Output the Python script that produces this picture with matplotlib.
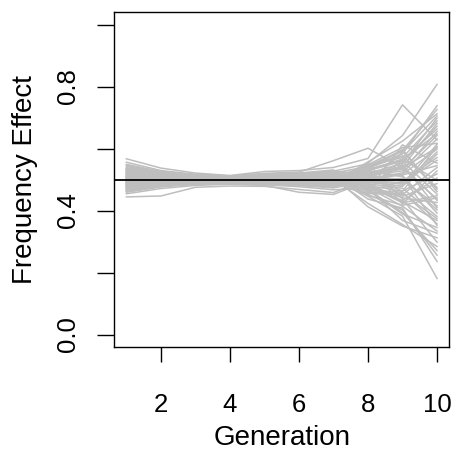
import numpy as np
import matplotlib
matplotlib.use("Agg")
import matplotlib.pyplot as plt

# frequency effect of each simulated run, one list per generation
generations = [1, 2, 3, 4, 5, 6, 7, 8, 9, 10]

gen1 = [0.512, 0.487, 0.531, 0.468, 0.502, 0.495, 0.549, 0.476, 0.521, 0.459,
        0.508, 0.538, 0.483, 0.497, 0.526, 0.471, 0.515, 0.444, 0.503, 0.491,
        0.567, 0.479, 0.518, 0.462, 0.534, 0.499, 0.486, 0.523, 0.507, 0.473,
        0.542, 0.489, 0.511, 0.465, 0.528, 0.494, 0.556, 0.481, 0.505, 0.469,
        0.519, 0.492, 0.536, 0.477, 0.514, 0.454, 0.501, 0.529, 0.485, 0.509,
        0.546, 0.474, 0.496, 0.524, 0.463, 0.516, 0.488, 0.533, 0.478, 0.504]
gen2 = [0.506, 0.492, 0.519, 0.481, 0.501, 0.497, 0.526, 0.486, 0.511, 0.476,
        0.504, 0.522, 0.489, 0.499, 0.514, 0.483, 0.508, 0.447, 0.502, 0.494,
        0.537, 0.488, 0.512, 0.479, 0.517, 0.500, 0.491, 0.513, 0.505, 0.485,
        0.524, 0.493, 0.507, 0.482, 0.515, 0.496, 0.529, 0.487, 0.503, 0.480,
        0.510, 0.495, 0.520, 0.484, 0.509, 0.471, 0.500, 0.516, 0.490, 0.506,
        0.523, 0.486, 0.498, 0.513, 0.478, 0.508, 0.492, 0.518, 0.485, 0.502]
gen3 = [0.503, 0.496, 0.511, 0.489, 0.500, 0.498, 0.514, 0.492, 0.506, 0.486,
        0.502, 0.512, 0.493, 0.499, 0.508, 0.490, 0.505, 0.475, 0.501, 0.497,
        0.521, 0.491, 0.507, 0.488, 0.510, 0.500, 0.494, 0.508, 0.503, 0.490,
        0.515, 0.495, 0.504, 0.487, 0.509, 0.497, 0.517, 0.492, 0.502, 0.484,
        0.506, 0.496, 0.513, 0.489, 0.505, 0.481, 0.500, 0.510, 0.494, 0.503,
        0.516, 0.491, 0.498, 0.507, 0.486, 0.504, 0.495, 0.511, 0.490, 0.501]
gen4 = [0.502, 0.497, 0.508, 0.491, 0.500, 0.499, 0.510, 0.494, 0.505, 0.489,
        0.501, 0.509, 0.494, 0.499, 0.506, 0.492, 0.504, 0.479, 0.501, 0.497,
        0.513, 0.493, 0.505, 0.490, 0.507, 0.500, 0.495, 0.506, 0.502, 0.492,
        0.511, 0.496, 0.503, 0.489, 0.507, 0.498, 0.512, 0.493, 0.501, 0.487,
        0.504, 0.497, 0.509, 0.491, 0.503, 0.485, 0.500, 0.508, 0.495, 0.502,
        0.511, 0.492, 0.498, 0.505, 0.488, 0.503, 0.496, 0.508, 0.491, 0.500]
gen5 = [0.504, 0.496, 0.512, 0.489, 0.501, 0.498, 0.515, 0.491, 0.507, 0.486,
        0.502, 0.513, 0.492, 0.499, 0.509, 0.489, 0.506, 0.478, 0.500, 0.496,
        0.526, 0.490, 0.508, 0.487, 0.511, 0.501, 0.493, 0.509, 0.503, 0.489,
        0.518, 0.494, 0.505, 0.485, 0.510, 0.497, 0.520, 0.491, 0.502, 0.483,
        0.507, 0.495, 0.514, 0.488, 0.506, 0.481, 0.499, 0.512, 0.493, 0.503,
        0.516, 0.490, 0.497, 0.508, 0.486, 0.505, 0.494, 0.513, 0.489, 0.501]
gen6 = [0.505, 0.495, 0.514, 0.486, 0.501, 0.497, 0.518, 0.489, 0.509, 0.482,
        0.503, 0.516, 0.490, 0.499, 0.511, 0.486, 0.507, 0.468, 0.501, 0.495,
        0.529, 0.488, 0.510, 0.484, 0.513, 0.500, 0.492, 0.511, 0.504, 0.487,
        0.521, 0.493, 0.506, 0.481, 0.512, 0.497, 0.524, 0.489, 0.502, 0.477,
        0.509, 0.494, 0.517, 0.485, 0.507, 0.459, 0.499, 0.514, 0.491, 0.504,
        0.519, 0.488, 0.497, 0.510, 0.483, 0.506, 0.493, 0.515, 0.486, 0.502]
gen7 = [0.508, 0.493, 0.521, 0.481, 0.502, 0.496, 0.527, 0.484, 0.513, 0.475,
        0.504, 0.524, 0.487, 0.499, 0.516, 0.480, 0.510, 0.458, 0.501, 0.493,
        0.539, 0.484, 0.514, 0.478, 0.519, 0.500, 0.490, 0.516, 0.505, 0.482,
        0.531, 0.491, 0.509, 0.473, 0.518, 0.496, 0.561, 0.486, 0.503, 0.467,
        0.513, 0.492, 0.525, 0.480, 0.510, 0.452, 0.498, 0.521, 0.489, 0.506,
        0.528, 0.483, 0.496, 0.515, 0.477, 0.508, 0.491, 0.522, 0.481, 0.503]
gen8 = [0.486, 0.515, 0.542, 0.492, 0.463, 0.527, 0.551, 0.504, 0.470, 0.508,
        0.452, 0.498, 0.546, 0.521, 0.474, 0.533, 0.461, 0.502, 0.423, 0.530,
        0.568, 0.539, 0.487, 0.500, 0.468, 0.455, 0.532, 0.511, 0.479, 0.519,
        0.466, 0.557, 0.446, 0.493, 0.483, 0.537, 0.601, 0.526, 0.507, 0.472,
        0.437, 0.548, 0.520, 0.484, 0.412, 0.496, 0.541, 0.459, 0.553, 0.477,
        0.513, 0.529, 0.465, 0.491, 0.517, 0.544, 0.449, 0.481, 0.506, 0.462]
gen9 = [0.472, 0.534, 0.421, 0.588, 0.612, 0.509, 0.437, 0.556, 0.483, 0.545,
        0.402, 0.517, 0.571, 0.446, 0.414, 0.597, 0.495, 0.503, 0.355, 0.563,
        0.741, 0.583, 0.429, 0.522, 0.393, 0.451, 0.566, 0.500, 0.425, 0.541,
        0.459, 0.624, 0.382, 0.486, 0.441, 0.577, 0.538, 0.513, 0.463, 0.368,
        0.408, 0.603, 0.552, 0.548, 0.350, 0.490, 0.591, 0.455, 0.642, 0.432,
        0.528, 0.559, 0.389, 0.478, 0.537, 0.594, 0.417, 0.462, 0.515, 0.565]
gen10 = [0.381, 0.642, 0.528, 0.705, 0.553, 0.352, 0.298, 0.672, 0.614, 0.433,
         0.256, 0.598, 0.689, 0.487, 0.334, 0.461, 0.571, 0.402, 0.284, 0.663,
         0.628, 0.738, 0.368, 0.631, 0.271, 0.539, 0.497, 0.415, 0.448, 0.681,
         0.357, 0.712, 0.181, 0.589, 0.426, 0.474, 0.603, 0.392, 0.518, 0.327,
         0.236, 0.617, 0.698, 0.409, 0.312, 0.562, 0.469, 0.374, 0.807, 0.505,
         0.655, 0.453, 0.345, 0.582, 0.437, 0.726, 0.441, 0.607, 0.545, 0.647]

neutral = 0.5
x_ticks = [2, 4, 6, 8, 10]
y_ticks = [0.0, 0.2, 0.4, 0.6, 0.8, 1.0]
y_ticklabels = ["0.0", "", "0.4", "", "0.8", ""]

plt.rcParams["font.family"] = ["Liberation Sans", "DejaVu Sans"]

runs = np.array([gen1, gen2, gen3, gen4, gen5, gen6, gen7, gen8, gen9, gen10])

fig = plt.figure(figsize=(4.54, 4.5), dpi=100)
ax = fig.add_axes([0.251, 0.229, 0.739, 0.744])

for i in range(runs.shape[1]):
    ax.plot(generations, runs[:, i], color="#BEBEBE", lw=1.1)
ax.axhline(neutral, color="black", lw=1.3)

ax.set_xlim(0.64, 10.36)
ax.set_ylim(-0.04, 1.04)
ax.set_xticks(x_ticks)
ax.set_yticks(y_ticks)
ax.set_yticklabels(y_ticklabels, rotation=90, va="center")

for s in ax.spines.values():
    s.set_linewidth(1.0)
ax.tick_params(axis="x", length=11, width=1.0, labelsize=18.5, pad=22)
ax.tick_params(axis="y", length=12.5, width=1.0, labelsize=18.5, pad=12)

ax.set_xlabel("Generation", fontsize=20)
ax.set_ylabel("Frequency Effect", fontsize=20)
ax.xaxis.set_label_coords(0.5, -0.233)
ax.yaxis.set_label_coords(-0.226, 0.5)

fig.savefig("out.png", dpi=100)
